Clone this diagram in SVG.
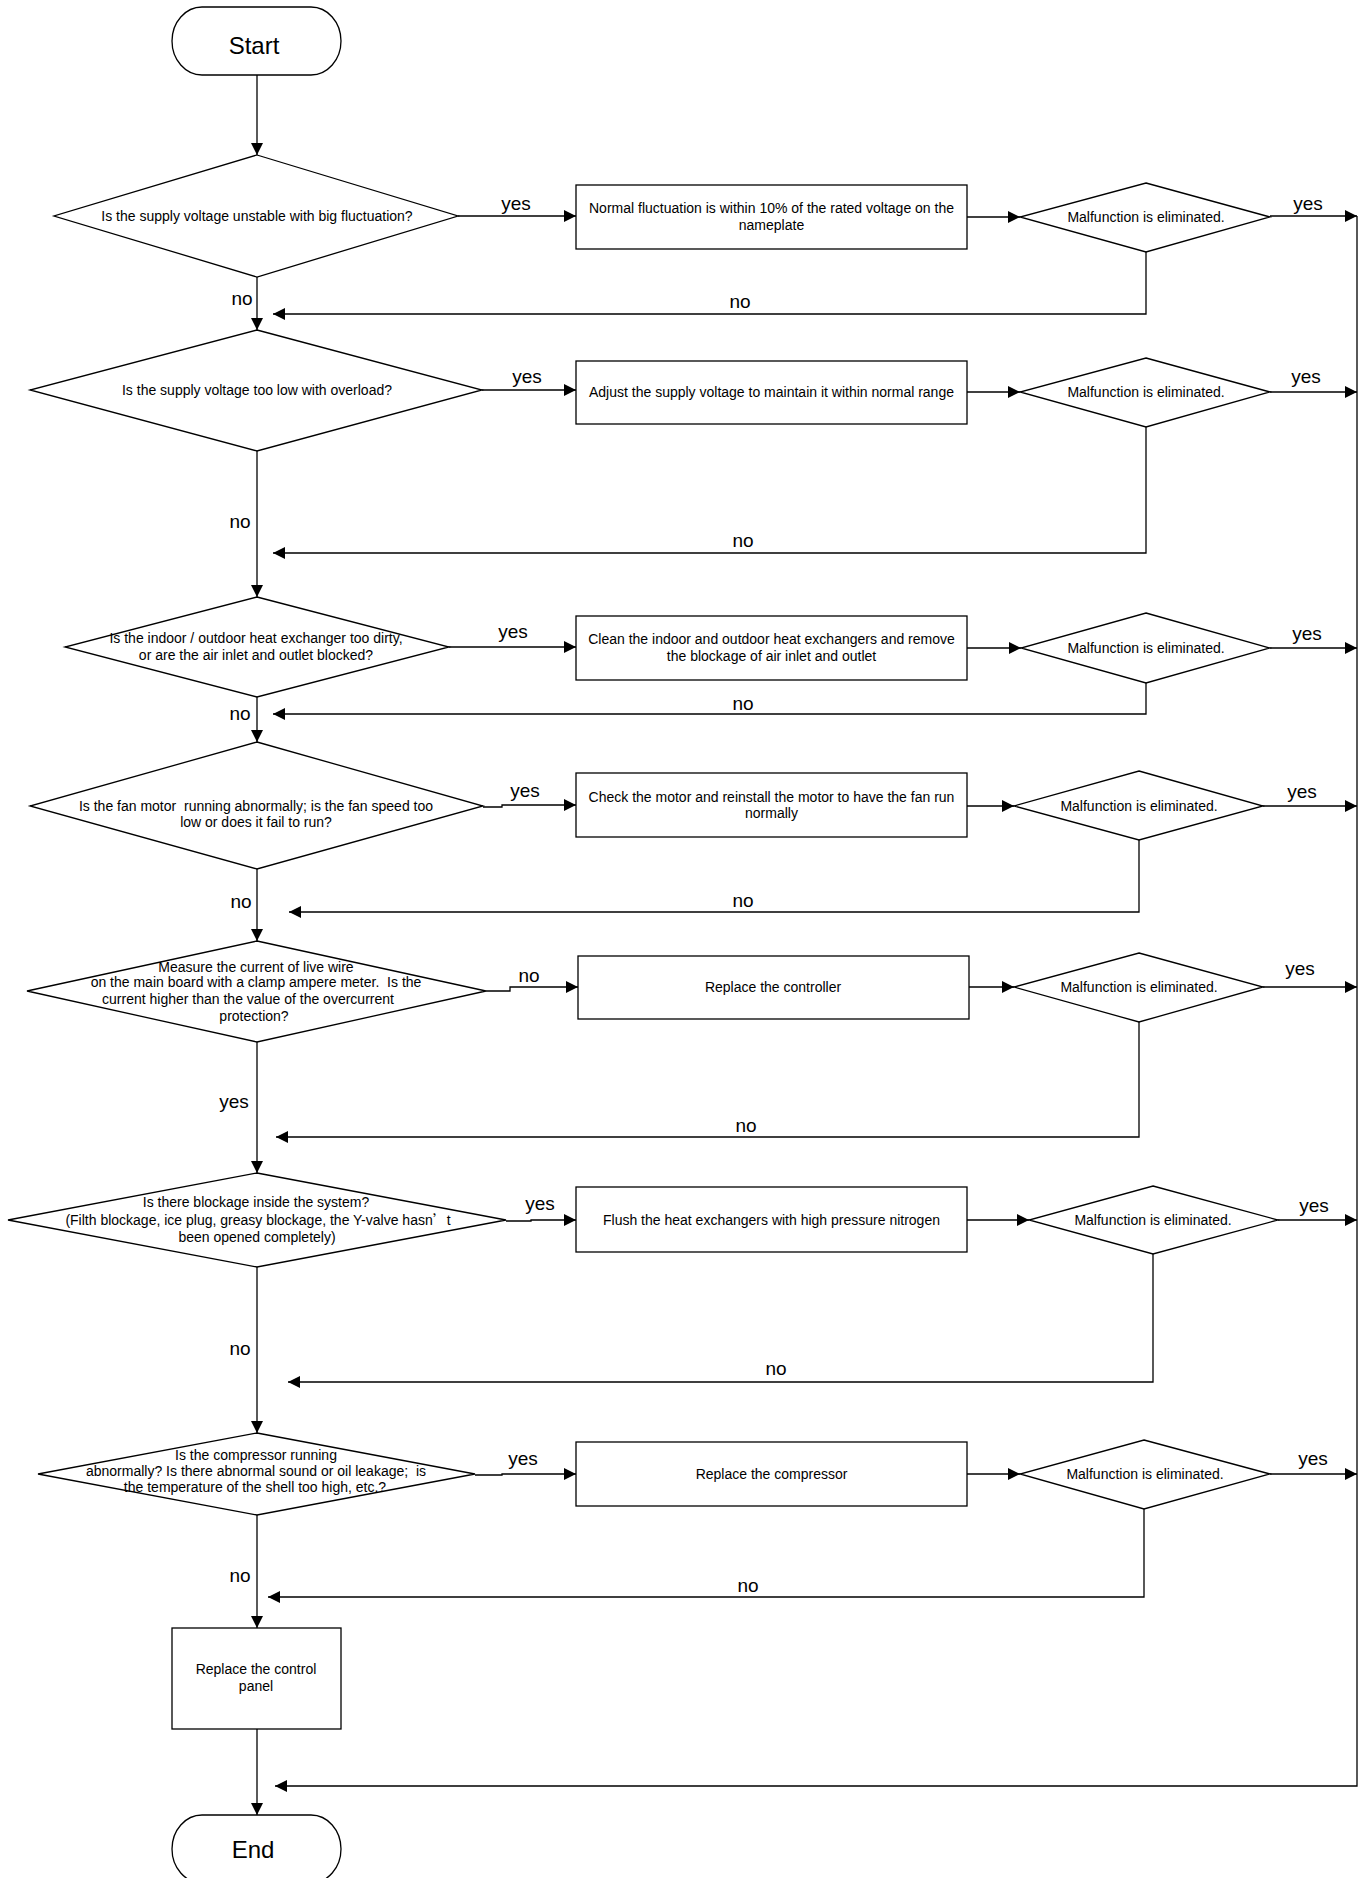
<svg xmlns="http://www.w3.org/2000/svg" width="1365" height="1878" viewBox="0 0 1365 1878">
<style>
.s{fill:#fff;stroke:#000;stroke-width:1.3}
.t{font-family:"Liberation Sans",Arial,sans-serif;font-size:14px;text-anchor:middle;fill:#000}
.l{font-family:"Liberation Sans",Arial,sans-serif;font-size:19px;text-anchor:middle;fill:#000}
.big{font-family:"Liberation Sans",Arial,sans-serif;font-size:24px;text-anchor:middle;fill:#000}
.c{fill:none;stroke:#000;stroke-width:1.3;marker-end:url(#ah)}
</style>
<defs>
<marker id="ah" markerUnits="userSpaceOnUse" viewBox="0 0 12 12" refX="12" refY="6" markerWidth="12" markerHeight="12" orient="auto">
<path d="M0,0 L12,6 L0,12 z" fill="#000"/>
</marker>
</defs>
<rect width="1365" height="1878" fill="#fff"/>
<g id="connectors">
<path class="c" d="M257,75 V155"/>
<path class="c" d="M458,216 H576"/>
<path class="c" d="M967,217 H1020"/>
<path class="c" d="M1270,216 H1357"/>
<path class="c" d="M1146,252 V314 H273"/>
<path class="c" d="M257,277 V330"/>
<path class="c" d="M482,390 H576"/>
<path class="c" d="M967,392 H1020"/>
<path class="c" d="M1270,392 H1357"/>
<path class="c" d="M1146,427 V553 H273"/>
<path class="c" d="M257,451 V597"/>
<path class="c" d="M449,647 H576"/>
<path class="c" d="M967,648 H1021"/>
<path class="c" d="M1270,648 H1357"/>
<path class="c" d="M1146,683 V714 H273"/>
<path class="c" d="M257,697 V742"/>
<path class="c" d="M483,807 H502 V805 H576"/>
<path class="c" d="M967,806 H1014"/>
<path class="c" d="M1263,806 H1357"/>
<path class="c" d="M1139,840 V912 H289"/>
<path class="c" d="M257,869 V941"/>
<path class="c" d="M486,991 H510 V987 H578"/>
<path class="c" d="M969,987 H1014"/>
<path class="c" d="M1263,987 H1357"/>
<path class="c" d="M1139,1022 V1137 H276"/>
<path class="c" d="M257,1042 V1173"/>
<path class="c" d="M506,1221 H531 V1220 H576"/>
<path class="c" d="M967,1220 H1029"/>
<path class="c" d="M1278,1220 H1357"/>
<path class="c" d="M1153,1254 V1382 H288"/>
<path class="c" d="M257,1267 V1433"/>
<path class="c" d="M475,1475 H502 V1474 H576"/>
<path class="c" d="M967,1474 H1020"/>
<path class="c" d="M1270,1474 H1357"/>
<path class="c" d="M1144,1509 V1597 H268"/>
<path class="c" d="M257,1515 V1628"/>
<path class="c" d="M257,1729 V1815"/>
<path class="c" d="M1357,216 V1786 H275"/>
<text class="l" x="516" y="210">yes</text>
<text class="l" x="1308" y="210">yes</text>
<text class="l" x="740" y="308">no</text>
<text class="l" x="242" y="305">no</text>
<text class="l" x="527" y="383">yes</text>
<text class="l" x="1306" y="383">yes</text>
<text class="l" x="743" y="547">no</text>
<text class="l" x="240" y="528">no</text>
<text class="l" x="513" y="638">yes</text>
<text class="l" x="1307" y="640">yes</text>
<text class="l" x="743" y="710">no</text>
<text class="l" x="240" y="720">no</text>
<text class="l" x="525" y="797">yes</text>
<text class="l" x="1302" y="798">yes</text>
<text class="l" x="743" y="907">no</text>
<text class="l" x="241" y="908">no</text>
<text class="l" x="529" y="982">no</text>
<text class="l" x="1300" y="975">yes</text>
<text class="l" x="746" y="1132">no</text>
<text class="l" x="234" y="1108">yes</text>
<text class="l" x="540" y="1210">yes</text>
<text class="l" x="1314" y="1212">yes</text>
<text class="l" x="776" y="1375">no</text>
<text class="l" x="240" y="1355">no</text>
<text class="l" x="523" y="1465">yes</text>
<text class="l" x="1313" y="1465">yes</text>
<text class="l" x="748" y="1592">no</text>
<text class="l" x="240" y="1582">no</text>
</g>
<g id="start">
<rect class="s" x="172" y="7" width="169" height="68" rx="30" ry="34"/>
<text class="big" x="254" y="54">Start</text>
</g>
<g id="d1">
<polygon class="s" points="257,155 458,216 257,277 54,216"/>
<text class="t" x="257" y="221">Is the supply voltage unstable with big fluctuation?</text>
</g>
<g id="b1">
<rect class="s" x="576" y="185" width="391" height="64"/>
<text class="t" x="771.5" y="213">Normal fluctuation is within 10% of the rated voltage on the</text>
<text class="t" x="771.5" y="230">nameplate</text>
</g>
<g id="m1">
<polygon class="s" points="1146,183 1270,217 1146,252 1020,217"/>
<text class="t" x="1146" y="222">Malfunction is eliminated.</text>
</g>
<g id="d2">
<polygon class="s" points="257,330 482,390 257,451 30,390"/>
<text class="t" x="257" y="395">Is the supply voltage too low with overload?</text>
</g>
<g id="b2">
<rect class="s" x="576" y="361" width="391" height="63"/>
<text class="t" x="771.5" y="397">Adjust the supply voltage to maintain it within normal range</text>
</g>
<g id="m2">
<polygon class="s" points="1146,358 1270,392 1146,427 1020,392"/>
<text class="t" x="1146" y="397">Malfunction is eliminated.</text>
</g>
<g id="d3">
<polygon class="s" points="257,597 449,647 257,697 65,647"/>
<text class="t" x="256" y="643">Is the indoor / outdoor heat exchanger too dirty,</text>
<text class="t" x="256" y="660">or are the air inlet and outlet blocked?</text>
</g>
<g id="b3">
<rect class="s" x="576" y="616" width="391" height="64"/>
<text class="t" x="771.5" y="644">Clean the indoor and outdoor heat exchangers and remove</text>
<text class="t" x="771.5" y="661">the blockage of air inlet and outlet</text>
</g>
<g id="m3">
<polygon class="s" points="1146,613 1270,648 1146,683 1021,648"/>
<text class="t" x="1146" y="653">Malfunction is eliminated.</text>
</g>
<g id="d4">
<polygon class="s" points="257,742 483,806 257,869 30,806"/>
<text class="t" x="256" y="811" xml:space="preserve">Is the fan motor  running abnormally; is the fan speed too</text>
<text class="t" x="256" y="827">low or does it fail to run?</text>
</g>
<g id="b4">
<rect class="s" x="576" y="773" width="391" height="64"/>
<text class="t" x="771.5" y="802">Check the motor and reinstall the motor to have the fan run</text>
<text class="t" x="771.5" y="818">normally</text>
</g>
<g id="m4">
<polygon class="s" points="1139,771 1263,806 1139,840 1014,806"/>
<text class="t" x="1139" y="811">Malfunction is eliminated.</text>
</g>
<g id="d5">
<polygon class="s" points="257,941 486,991 257,1042 27,991"/>
<text class="t" x="256" y="972">Measure the current of live wire</text>
<text class="t" x="256" y="987" xml:space="preserve">on the main board with a clamp ampere meter.  Is the</text>
<text class="t" x="248" y="1004">current higher than the value of the overcurrent</text>
<text class="t" x="254" y="1021">protection?</text>
</g>
<g id="b5">
<rect class="s" x="578" y="956" width="391" height="63"/>
<text class="t" x="773" y="992">Replace the controller</text>
</g>
<g id="m5">
<polygon class="s" points="1139,953 1263,987 1139,1022 1014,987"/>
<text class="t" x="1139" y="992">Malfunction is eliminated.</text>
</g>
<g id="d6">
<polygon class="s" points="257,1173 506,1220 257,1267 8,1220"/>
<text class="t" x="256" y="1207">Is there blockage inside the system?</text>
<text class="t" x="258" y="1225">(Filth blockage, ice plug, greasy blockage, the Y-valve hasn<tspan font-family="'Noto Sans CJK SC',sans-serif">’</tspan>t</text>
<text class="t" x="257" y="1242">been opened completely)</text>
</g>
<g id="b6">
<rect class="s" x="576" y="1187" width="391" height="65"/>
<text class="t" x="771.5" y="1225">Flush the heat exchangers with high pressure nitrogen</text>
</g>
<g id="m6">
<polygon class="s" points="1153,1186 1278,1220 1153,1254 1029,1220"/>
<text class="t" x="1153" y="1225">Malfunction is eliminated.</text>
</g>
<g id="d7">
<polygon class="s" points="257,1433 475,1474 257,1515 38,1474"/>
<text class="t" x="256" y="1460">Is the compressor running</text>
<text class="t" x="256" y="1476" xml:space="preserve">abnormally? Is there abnormal sound or oil leakage;  is</text>
<text class="t" x="255" y="1492">the temperature of the shell too high, etc.?</text>
</g>
<g id="b7">
<rect class="s" x="576" y="1442" width="391" height="64"/>
<text class="t" x="771.5" y="1479">Replace the compressor</text>
</g>
<g id="m7">
<polygon class="s" points="1144,1440 1270,1474 1144,1509 1020,1474"/>
<text class="t" x="1145" y="1479">Malfunction is eliminated.</text>
</g>
<g id="b8">
<rect class="s" x="172" y="1628" width="169" height="101"/>
<text class="t" x="256" y="1674">Replace the control</text>
<text class="t" x="256" y="1691">panel</text>
</g>
<g id="end">
<rect class="s" x="172" y="1815" width="169" height="68" rx="30" ry="34"/>
<text class="big" x="253" y="1858">End</text>
</g>
</svg>
